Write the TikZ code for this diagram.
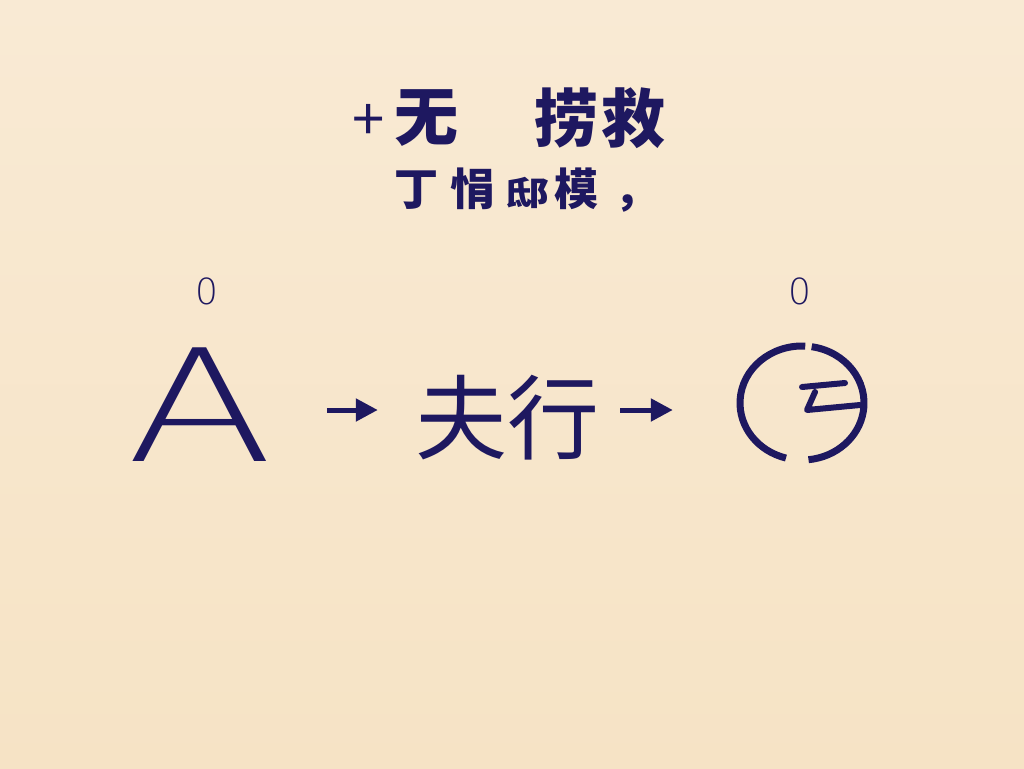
\documentclass[tikz,border=0pt]{standalone}
\usepackage{fontspec}
\usetikzlibrary{arrows.meta}
\newfontfamily\cjk{Noto Sans CJK SC}
\newfontfamily\thinfont{DejaVuSans-ExtraLight}[Extension=.ttf]
\definecolor{ink}{RGB}{30,24,96}
\definecolor{bgtop}{RGB}{249,234,212}
\definecolor{bgbot}{RGB}{246,227,197}
\tikzset{
  txt/.style={inner sep=0pt, text=ink},
  arr/.style={draw=ink, line width=5pt, -{Triangle[length=22pt,width=22pt]}},
  ring/.style={draw=ink, line width=7pt},
  inmark/.style={draw=ink, line width=6pt, line cap=round, line join=round}
}
\begin{document}
\begin{tikzpicture}[x=1pt,y=-1pt]
\shade[top color=bgtop, bottom color=bgbot] (0,0) rectangle (1024,768);
\useasboundingbox (0,0) rectangle (1024,768);
% title lines
\node[txt, anchor=west, font=\cjk\bfseries\fontsize{64}{64}\selectfont] (t1) at (352,118) {{\mdseries\fontsize{58}{58}\selectfont +}\hspace{10pt}无};
\node[txt, anchor=west, font=\cjk\bfseries\fontsize{64}{64}\selectfont] (t2) at (534,118) {捞\hspace{3pt}救};
\node[txt, anchor=west, font=\cjk\bfseries\fontsize{44}{44}\selectfont] (t3) at (394,190) {丁\hspace{12pt}悁\hspace{11pt}\scalebox{1}[0.75]{邸}\hspace{5pt}模\hspace{16pt}，};
% small zeros
\node[txt, font=\thinfont\fontsize{36}{36}\selectfont] (z1) at (207,291) {0};
\node[txt, font=\thinfont\fontsize{36}{36}\selectfont] (z2) at (800,291) {0};
% main row
\node[txt, minimum width=140pt, font=\thinfont\fontsize{156}{156}\selectfont] (A) at (200,405) {\scalebox{1.38}[1]{A}};
\node[txt, font=\cjk\fontsize{92}{92}\selectfont] (mid) at (507,418) {夫行};
\node[inner sep=0pt, minimum width=124pt, minimum height=114pt] (C) at (802,403) {};
\coordinate (row) at (0,410);
\draw[arr, shorten <=53pt, shorten >=37pt] (A.east |- row) -- (mid.west |- row);
\draw[arr, shorten <=21pt, shorten >=67pt] (mid.east |- row) -- (C.west |- row);
% ring with gaps
\draw[ring] (C.center) ++(-87:62 and 57) arc[start angle=-87, end angle=-255, x radius=62, y radius=57];
\draw[ring] (C.center) ++(-81:62 and 57) arc[start angle=-81, end angle=84, x radius=62, y radius=57];
% inner mark
\draw[inmark] ([shift={(0,-16)}]C.center) -- ([shift={(43,-20)}]C.center);
\draw[inmark] ([shift={(13,-11)}]C.center) -- ([shift={(5,7)}]C.center) -- ([shift={(58,2)}]C.center);
\end{tikzpicture}
\end{document}
